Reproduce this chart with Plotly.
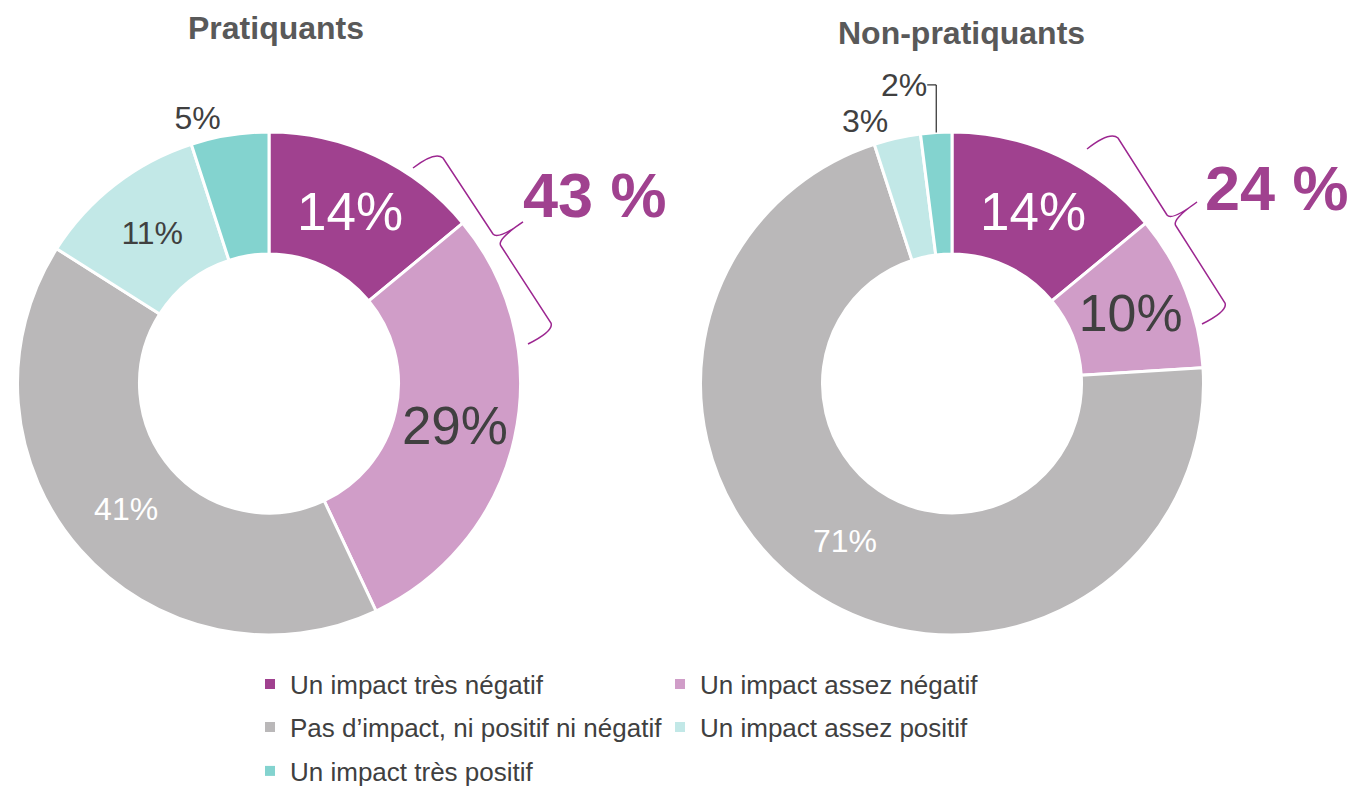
import plotly.graph_objects as go

W, H = 1355, 786
OFF = 8  # page body margin

categories = [
    "Un impact très négatif",
    "Un impact assez négatif",
    "Pas d’impact, ni positif ni négatif",
    "Un impact assez positif",
    "Un impact très positif",
]
pratiquants = [14, 29, 41, 11, 5]
non_pratiquants = [14, 10, 71, 3, 2]
titles = ["Pratiquants", "Non-pratiquants"]
negatif_totals = ["43 %", "24 %"]

colors = ["#A0418F", "#D09DC8", "#BAB8B9", "#C2E8E7", "#83D3CF"]
FONT = "Arial, Liberation Sans, sans-serif"
DARK = "#404040"


def px_x(x):
    return (x - OFF) / W


def px_y(y):
    return 1 - (y - OFF) / H


def pie(values, cx, sizes, tcolors, positions):
    r = 251.5
    cy = 383.5
    return go.Pie(
        labels=categories,
        values=values,
        sort=False,
        direction="clockwise",
        rotation=0,
        hole=0.515,
        domain=dict(x=[px_x(cx - r), px_x(cx + r)], y=[px_y(cy + r), px_y(cy - r)]),
        marker=dict(colors=colors, line=dict(color="white", width=3)),
        texttemplate="%{value}%",
        textposition=positions,
        insidetextorientation="horizontal",
        textfont=dict(family=FONT, size=sizes, color=tcolors),
        showlegend=False,
        hoverinfo="label+value",
    )


fig = go.Figure()
fig.add_trace(pie(pratiquants, 269,
                  [53, 53, 32, 32, 32],
                  ["white", DARK, "white", DARK, DARK],
                  ["inside", "inside", "inside", "inside", "outside"]))
fig.add_trace(pie(non_pratiquants, 952,
                  [53, 53, 32, 32, 32],
                  ["white", DARK, "white", DARK, DARK],
                  ["inside", "inside", "inside", "outside", "outside"]))

# legend entries (dummy traces so the legend can be laid out in 2 columns)
legend_of = ["legend", "legend", "legend2", "legend2", "legend3"]
for cat, col, lg in zip(categories, colors, legend_of):
    fig.add_trace(go.Scatter(
        x=[None], y=[None], mode="markers", name=cat,
        marker=dict(symbol="square", size=10, color=col),
        legend=lg, showlegend=True, hoverinfo="skip",
    ))

legend_common = dict(
    orientation="h", xanchor="left", yanchor="middle",
    x=px_x(250), entrywidth=365, entrywidthmode="pixels",
    font=dict(family=FONT, size=26, color=DARK),
    bgcolor="rgba(0,0,0,0)", itemclick=False, itemdoubleclick=False,
)


# braces
def brace_path(pts):
    (a, b, c, t, e, f, g) = pts

    def P(p):
        return f"{px_x(p[0]):.5f},{px_y(p[1]):.5f}"
    return (f"M {P(a)} Q {P((b[0]-6, b[1]-4))} {P((b[0]+2, b[1]+3))} "
            f"L {P(c)} Q {P((c[0]+5, c[1]+6))} {P(t)} "
            f"Q {P((e[0]-3, e[1]-3))} {P((e[0]+2, e[1]+3))} "
            f"L {P(f)} Q {P((f[0]+3, f[1]+8))} {P(g)}")


brace_left = [(413, 168), (441, 155), (493, 234), (523, 222), (499, 243), (551, 323), (528, 344)]
brace_right = [(1087, 149), (1116, 135), (1167, 215), (1197, 202), (1174, 223), (1225, 303), (1202, 324)]

shapes = [
    dict(type="path", xref="paper", yref="paper", path=brace_path(brace_left),
         line=dict(color="#9C2690", width=1.5)),
    dict(type="path", xref="paper", yref="paper", path=brace_path(brace_right),
         line=dict(color="#9C2690", width=1.5)),
]


def ann(text, x, y, size, color):
    return dict(text=text, x=px_x(x), y=px_y(y), xref="paper", yref="paper",
                xanchor="center", yanchor="middle", showarrow=False,
                font=dict(family=FONT, size=size, color=color))


annotations = [
    ann(f"<b>{titles[0]}</b>", 276, 28, 32, "#595959"),
    ann(f"<b>{titles[1]}</b>", 961, 33, 32, "#595959"),
    ann(f"<b>{negatif_totals[0]}</b>", 595, 195, 63, "#A0418F"),
    ann(f"<b>{negatif_totals[1]}</b>", 1277, 188, 63, "#A0418F"),
]

fig.update_layout(
    width=W, height=H,
    margin=dict(l=0, r=0, t=0, b=0, autoexpand=False),
    paper_bgcolor="white", plot_bgcolor="white",
    xaxis=dict(visible=False, range=[0, 1]), yaxis=dict(visible=False, range=[0, 1]),
    legend=dict(legend_common, y=px_y(684)),
    legend2=dict(legend_common, y=px_y(727)),
    legend3=dict(legend_common, y=px_y(771)),
    shapes=shapes,
    annotations=annotations,
)

fig.write_html("out.html")
